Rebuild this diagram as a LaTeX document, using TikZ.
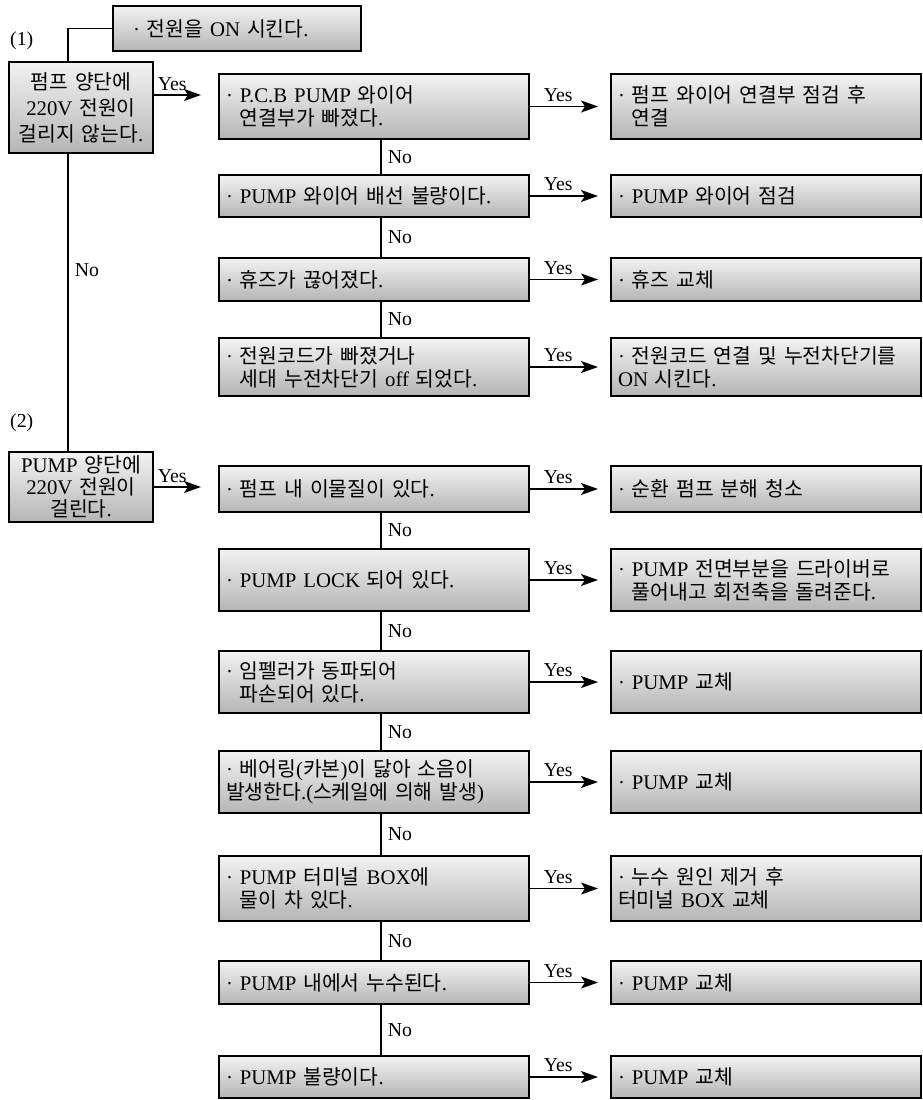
\documentclass[tikz,border=0pt]{standalone}
\usepackage{fontspec}
\setmainfont{Liberation Serif}
\newfontfamily\krf[Scale=1.02]{Noto Sans CJK KR}
\newfontfamily\latf[Scale=1.04]{Liberation Serif}
\newXeTeXintercharclass\HangulCls
\newcount\hgcnt
\hgcnt="AC00
\loop
  \XeTeXcharclass\hgcnt=\HangulCls
  \advance\hgcnt by 1
\ifnum\hgcnt<"D7A4 \repeat
\XeTeXinterchartoks 0 \HangulCls = {\krf}
\XeTeXinterchartoks 4095 \HangulCls = {\krf}
\XeTeXinterchartoks \HangulCls 0 = {\latf}
\XeTeXinterchartoks \HangulCls 4095 = {\latf}
\XeTeXinterchartokenstate=1
\usetikzlibrary{arrows.meta}
\newcommand\fz{\fontsize{20pt}{23pt}\latf}
\newcommand\ind{\hphantom{·\ }}
\begin{document}
\begin{tikzpicture}[x=1pt,y=-1pt,font=\fz,
  bx/.style={draw, line width=2pt, top color=gray!10, bottom color=gray!58,
    anchor=north west, inner xsep=7pt, inner ysep=0pt, align=left,
    minimum width=310pt, text width=296pt},
  lbx/.style={bx, align=center, inner xsep=2pt, text width=140pt, minimum width=144pt},
  tbx/.style={bx, inner xsep=20pt, text width=208pt, minimum width=248pt, minimum height=45pt},
  ln/.style={line width=1.8pt},
  arr/.style={line width=1.8pt, -{Stealth[length=17pt,width=12pt,inset=4pt]}},
  lbl/.style={font=\fontsize{19pt}{20pt}\latf, inner sep=1pt, fill=none},
]
\useasboundingbox (0,0) rectangle (922,1100);

% labels (1) (2)
\node[lbl, anchor=west] (n1) at (9,41) {(1)};
\node[lbl, anchor=west] (n2) at (9,423) {(2)};

% top box and left boxes
\node[tbx] (T) at (112,5) {· 전원을 ON 시킨다.};
\node[lbx, minimum height=91pt, font=\fontsize{20pt}{26pt}\latf] (L1) at (8,61) {펌프 양단에\\220V 전원이\\걸리지 않는다.};
\node[lbx, minimum height=70pt, font=\fontsize{20pt}{22pt}\latf] (L2) at (8,451) {PUMP 양단에\\220V 전원이\\걸린다.};

% section 1 questions
\node[bx, minimum height=65pt] (q1) at (218,73) {· P.C.B PUMP 와이어\\\ind 연결부가 빠졌다.};
\node[bx, minimum height=42pt] (q2) at (218,174) {· PUMP 와이어 배선 불량이다.};
\node[bx, minimum height=43pt] (q3) at (218,257) {· 휴즈가 끊어졌다.};
\node[bx, minimum height=58pt] (q4) at (218,337) {· 전원코드가 빠졌거나\\\ind 세대 누전차단기 off 되었다.};
% section 1 actions
\node[bx, minimum height=65pt] (a1) at (610,73) {· 펌프 와이어 연결부 점검 후\\\ind 연결};
\node[bx, minimum height=42pt] (a2) at (610,174) {· PUMP 와이어 점검};
\node[bx, minimum height=43pt] (a3) at (610,257) {· 휴즈 교체};
\node[bx, minimum height=58pt] (a4) at (610,337) {· 전원코드 연결 및 누전차단기를\\ON 시킨다.};

% section 2 questions
\node[bx, minimum height=46pt] (qA) at (218,465) {· 펌프 내 이물질이 있다.};
\node[bx, minimum height=62pt] (qB) at (218,548) {· PUMP LOCK 되어 있다.};
\node[bx, minimum height=62pt] (qC) at (218,650) {· 임펠러가 동파되어\\\ind 파손되어 있다.};
\node[bx, minimum height=62pt] (qD) at (218,750) {· 베어링(카본)이 닳아 소음이\\발생한다.(스케일에 의해 발생)};
\node[bx, minimum height=65pt] (qE) at (218,855) {· PUMP 터미널 BOX에\\\ind 물이 차 있다.};
\node[bx, minimum height=43pt] (qF) at (218,960) {· PUMP 내에서 누수된다.};
\node[bx, minimum height=42pt] (qG) at (218,1055) {· PUMP 불량이다.};
% section 2 actions
\node[bx, minimum height=46pt] (aA) at (610,465) {· 순환 펌프 분해 청소};
\node[bx, minimum height=62pt] (aB) at (610,548) {· PUMP 전면부분을 드라이버로\\\ind 풀어내고 회전축을 돌려준다.};
\node[bx, minimum height=62pt] (aC) at (610,650) {· PUMP 교체};
\node[bx, minimum height=62pt] (aD) at (610,750) {· PUMP 교체};
\node[bx, minimum height=65pt] (aE) at (610,855) {· 누수 원인 제거 후\\터미널 BOX 교체};
\node[bx, minimum height=43pt] (aF) at (610,960) {· PUMP 교체};
\node[bx, minimum height=42pt] (aG) at (610,1055) {· PUMP 교체};

% left trunk
\coordinate (c0) at (68,28);
\draw[ln] (L1.north -| c0) |- (T.west);
\draw[ln] (L1.south -| c0) -- (L2.north -| c0) node[pos=0.39, right, lbl, xshift=5pt] {No};

% left yes arrows
\coordinate (t1) at (201,95);
\draw[arr] (L1.east |- t1) -- (t1) node[pos=0, anchor=south west, lbl, xshift=2pt, yshift=2pt] {Yes};
\draw[arr, shorten >=17pt] (L2.east) -- (L2.east -| qA.west) node[pos=0, anchor=south west, lbl, xshift=2pt, yshift=2pt] {Yes};

% yes arrows to actions
\foreach \k in {1,2,3,4,A,B,C,D,E,F,G}{
  \draw[arr, shorten >=12pt] (q\k.east) -- (a\k.west) node[pos=0, anchor=south west, lbl, xshift=12pt, yshift=3pt] {Yes};
}

% no chains
\foreach \u/\v in {1/2,2/3,3/4,A/B,B/C,C/D,D/E,E/F,F/G}{
  \draw[ln] ([xshift=7pt]q\u.south) -- ([xshift=7pt]q\v.north) node[midway, right, lbl, xshift=5pt] {No};
}
\end{tikzpicture}
\end{document}
